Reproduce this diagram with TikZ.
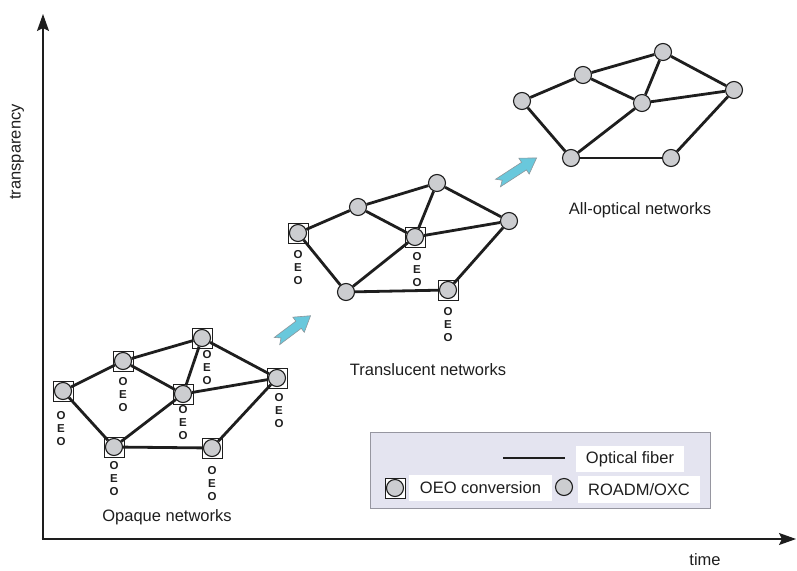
\documentclass[tikz,border=0pt]{standalone}
\usepackage{fontspec}
\setmainfont{Liberation Sans}
\usepackage{tikz}
\usetikzlibrary{positioning}
\usetikzlibrary{arrows.meta}
\definecolor{cb}{RGB}{30,30,30}
\definecolor{cn}{RGB}{204,205,208}
\definecolor{cl}{RGB}{228,228,240}
\definecolor{clb}{RGB}{150,150,160}
\definecolor{ca}{RGB}{105,200,220}
\definecolor{cag}{RGB}{140,150,155}
\tikzstyle{every node}=[font=\fontsize{16.5}{19}\selectfont]
\tikzstyle{roadm}=[circle, draw=cb, fill=cn, line width=1.1pt, minimum size=17pt, inner sep=0pt]
\tikzstyle{oeo box}=[draw=cb, fill=white, line width=1pt, minimum size=20pt, inner sep=0pt]
\tikzstyle{oeo}=[cb, font=\bfseries\fontsize{11.5}{13}\selectfont, align=center, inner sep=0pt]
\tikzstyle{link}=[cb, line width=2.8pt]
\tikzstyle{axis}=[cb, line width=1.3pt, -{Stealth[length=17pt,width=12pt,inset=3pt]}]
\tikzstyle{tag}=[cb, fill=white, minimum height=26pt, inner sep=0pt]
\tikzstyle{step arrow}=[fill=ca, draw=cag, line width=0.6pt]

\begin{document}
\begin{tikzpicture}[x=1pt, y=-1pt]
  \useasboundingbox (0,0) rectangle (797,570);
  % axes
  \coordinate (origin) at (43,539);
  \coordinate (ytop) at (43,14);
  \coordinate (xend) at (796,539);
  \draw [axis] (origin) -- (ytop);
  \draw [axis] ([xshift=-1.5pt]origin) -- (xend);
  \node [cb, rotate=90] (ylabel) at (17,152) {transparency};
  \node [cb] (xlabel) at (705,560) {time};

  % opaque networks
  \foreach \n/\x/\y in {A/63/391, B/123/361, C/202/338, D/183/394, E/277/378, F/114/447, G/212/448}{
    \node [oeo box] (s-\n) at (\x,\y) {};
    \node [roadm] (o-\n) at (\x,\y) {};
  }
  \foreach \a/\b in {A/B, B/C, C/E, A/F, F/G, G/E, B/D, D/C, D/E, F/D}
    \draw [link] (o-\a) -- (o-\b);
  \foreach \n/\x/\y in {A/61/429, B/123/395, C/207/368, D/183/423, E/279/411, F/114/479, G/212/484}
    \node [oeo] (oeo-\n) at (\x,\y) {O\\E\\O};
  \node [cb] (opaque) at (167,517) {Opaque networks};

  % translucent networks
  \foreach \n/\x/\y in {a/298/233, d/415/237, g/448/290}
    \node [oeo box] (s-\n) at (\x,\y) {};
  \foreach \n/\x/\y in {a/298/233, b/358/207, c/437/183, d/415/237, e/509/221, f/346/292, g/448/290}
    \node [roadm] (t-\n) at (\x,\y) {};
  \foreach \a/\b in {a/b, b/c, c/e, a/f, f/g, g/e, b/d, d/c, d/e, f/d}
    \draw [link] (t-\a) -- (t-\b);
  \foreach \n/\x/\y in {a/298/268, d/417/270, g/448/325}
    \node [oeo] (oeo-\n) at (\x,\y) {O\\E\\O};
  \node [cb] (translucent) at (428,370) {Translucent networks};

  % all-optical networks
  \foreach \n/\x/\y in {a/522/101, b/583/75, c/663/52, d/642/103, e/734/90, f/571/158, g/671/158}
    \node [roadm] (p-\n) at (\x,\y) {};
  \foreach \a/\b in {a/b, b/c, c/e, a/f, f/g, g/e, b/d, d/c, d/e, f/d}
    \draw [link] (p-\a) -- (p-\b);
  \node [cb] (alloptical) at (640,210) {All-optical networks};

  % evolution arrows
  \foreach \x/\y/\r/\l in {277/341/37/42, 498/183/33/46}{
    \begin{scope}[shift={(\x,\y)}, rotate=\r]
      \draw [step arrow] (0,4.5) -- (\l-15,4.5) -- (\l-15,9.5) -- (\l,0)
        -- (\l-15,-9.5) -- (\l-15,-4.5) -- (0,-4.5) -- (5,0) -- cycle;
    \end{scope}
  }

  % legend
  \draw [clb, fill=cl, line width=0.8pt] (370,432) rectangle (710,508);
  \node [tag, minimum width=108pt] (fiber) at (630,459) {Optical fiber};
  \node [tag, minimum width=143pt] (conversion) at (480.5,488) {OEO conversion};
  \node [tag, minimum width=122pt, minimum height=27pt] (oxc) at (639,489.5) {ROADM/OXC};
  \coordinate (fiber-l) at (503,458);
  \coordinate (fiber-r) at (565,458);
  \draw [link] (fiber-l) -- (fiber-r);
  \node [oeo box] (key-sq) at (395,488) {};
  \node [roadm] (key-oeo) at (395,488) {};
  \node [roadm] (key-oxc) at (564,487) {};
\end{tikzpicture}
\end{document}
